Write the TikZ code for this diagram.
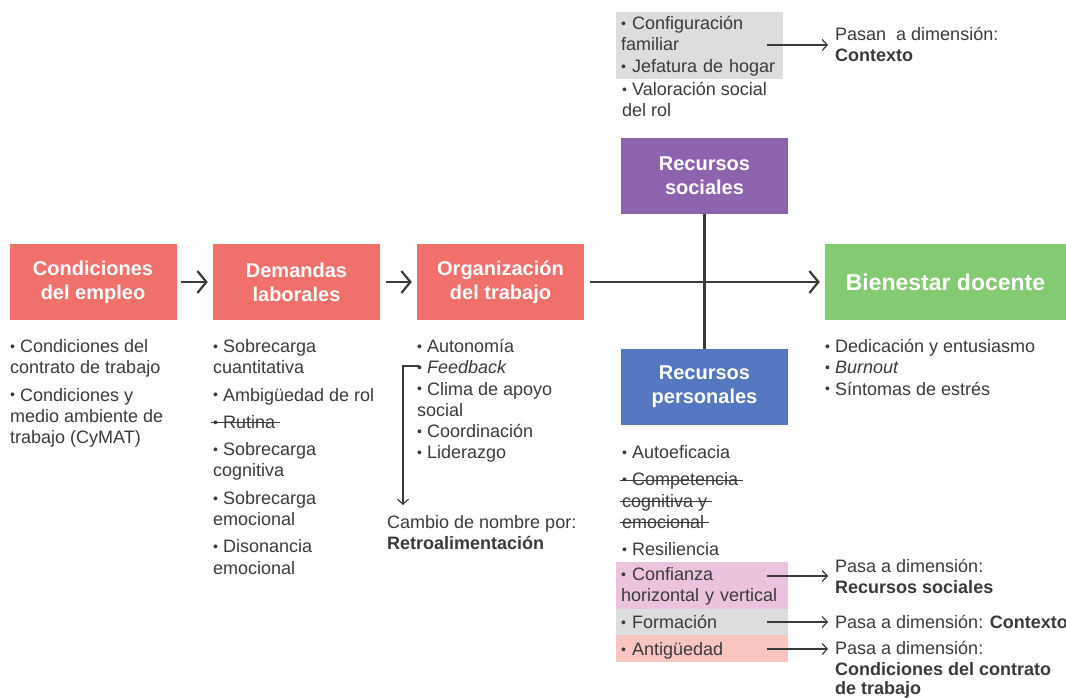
\documentclass[tikz,border=0pt]{standalone}
\usepackage{fontspec}
\setmainfont{Liberation Sans}
\usetikzlibrary{arrows.meta}
\definecolor{salmon}{HTML}{F0716C}
\definecolor{purp}{HTML}{8E63AE}
\definecolor{blu}{HTML}{5577C0}
\definecolor{grn}{HTML}{84CA72}
\definecolor{gry}{HTML}{DCDDDE}
\definecolor{pnk}{HTML}{EBC3DE}
\definecolor{lred}{HTML}{F8C5C1}
\definecolor{txt}{HTML}{3A3A3A}
\newsavebox{\strkbox}
\newcommand{\strk}[1]{\sbox{\strkbox}{#1}\hspace*{-2pt}\rlap{\raisebox{0.27em}{\rule{\dimexpr\wd\strkbox+7pt\relax}{1.1pt}}}\hspace*{2pt}\usebox{\strkbox}}
\newcommand{\bu}{\raisebox{0.06em}{\scalebox{0.78}{•}}\ }
\newcommand{\tstrut}{\rule{0pt}{17.4pt}}
\newcommand{\bstrut}{\rule[-3.9pt]{0pt}{3.9pt}}
\begin{document}
\begin{tikzpicture}[x=1pt,y=-1pt,
  box/.style={fill=#1, text=white, font=\fontsize{20}{24}\selectfont\bfseries,
    minimum width=167, minimum height=76, inner sep=0, align=center},
  lst/.style={anchor=north west, inner sep=0, align=left, text=txt,
    font=\fontsize{18}{21.3}\selectfont},
  hl/.style={fill=#1, anchor=north west, inner xsep=5, inner ysep=0, align=left,
    text=txt, font=\fontsize{18}{21.3}\selectfont},
  bigarr/.style={draw=txt, line width=2.2pt, -{Straight Barb[length=9pt,width=22pt]}},
  smallarr/.style={draw=txt, line width=1.2pt, -{Straight Barb[length=5pt,width=11pt]}},
]
\useasboundingbox (0,0) rectangle (1066,697);

% main boxes
\node[box=salmon] (cond) at (93,282) {Condiciones\\del empleo};
\node[box=salmon] (dem) at (296.5,282) {Demandas\\laborales};
\node[box=salmon] (org) at (500.5,282) {Organización\\del trabajo};
\node[box=grn, minimum width=241, font=\fontsize{23}{26}\selectfont\bfseries] (bien) at (945.5,282) {Bienestar docente};
\node[box=purp] (rsoc) at (704.5,176) {Recursos\\sociales};
\node[box=blu] (rper) at (704.5,387) {Recursos\\personales};

% connectors
\draw[bigarr, shorten <=4pt, shorten >=5pt] (cond) -- (dem);
\draw[bigarr, shorten <=6pt, shorten >=5pt] (dem) -- (org);
\draw[bigarr, shorten <=6pt, shorten >=5pt] (org) -- (bien);
\draw[draw=txt, line width=2.2pt] (rsoc) -- (rper);

% lists under boxes
\node[lst] (l1) at (10,337.3) {\strut\bu Condiciones del\\\strut contrato de trabajo\\[6pt]
  \strut\bu Condiciones y\\\strut medio ambiente de\\\strut trabajo (CyMAT)};
\node[lst] (l2) at (213,337.3) {\strut\bu Sobrecarga\\\strut cuantitativa\\[6pt]
  \strut\bu Ambigüedad de rol\\[6pt]
  \strut\strk{\bu Rutina}\\[6pt]
  \strut\bu Sobrecarga\\\strut cognitiva\\[6pt]
  \strut\bu Sobrecarga\\\strut emocional\\[6pt]
  \strut\bu Disonancia\\\strut emocional};
\node[lst] (l3) at (417,337.3) {\strut\bu Autonomía\\\strut\bu \textit{Feedback}\\
  \strut\bu Clima de apoyo\\\strut social\\\strut\bu Coordinación\\\strut\bu Liderazgo};
\node[lst] (l4) at (825,337.3) {\strut\bu Dedicación y entusiasmo\\\strut\bu \textit{Burnout}\\
  \strut\bu Síntomas de estrés};

% feedback note
\node[lst] (cambio) at (387,513.3) {\strut Cambio de nombre por:\\\strut\textbf{Retroalimentación}};
\coordinate (fb) at (419,366);
\coordinate (fbend) at (403,505);
\draw[smallarr] (fb) -| (fbend);

% top list (recursos sociales)
\node[hl=gry, text width=157, minimum height=66] (topg) at (616,12)
  {\tstrut\bu Configuración\\\strut familiar\\\strut\bu Jefatura de hogar\bstrut};
\node[lst] (valor) at (622,80.3) {\strut\bu Valoración social\\\strut del rol};
\node[lst] (topnote) at (835,25.3) {\strut Pasan\ \ a dimensión:\\\strut\textbf{Contexto}};
\coordinate (a0) at (767,45);
\draw[smallarr, shorten >=7pt] (a0) -- (a0 -| topnote.west);

% recursos personales list
\node[lst] (lper) at (622,443.3) {\strut\bu Autoeficacia\\[6pt]
  \strut\strk{\bu Competencia}\\\strut\strk{cognitiva y}\\\strut\strk{emocional}\\[6pt]
  \strut\bu Resiliencia};
\node[hl=pnk, text width=162, minimum height=47] (conf) at (616,562)
  {\tstrut\bu Confianza\\\strut horizontal y vertical\bstrut};
\node[hl=gry, text width=162, minimum height=26] (form) at (616,609)
  {\tstrut\bu Formación\bstrut};
\node[hl=lred, text width=162, minimum height=27] (anti) at (616,635)
  {\tstrut\bu Antigüedad\bstrut};

\node[lst] (n1) at (835,557.3) {\strut Pasa a dimensión:\\\strut\textbf{Recursos sociales}};
\node[lst] (n2) at (835,613.3) {\strut Pasa a dimensión: \textbf{Contexto}};
\node[lst] (n3) at (835,639.3) {\strut Pasa a dimensión:\\\strut\textbf{Condiciones del contrato}\\[-3pt]\strut\textbf{de trabajo}};

\coordinate (a1) at (767,576);
\coordinate (a2) at (767,622);
\coordinate (a3) at (767,649);
\draw[smallarr, shorten >=7pt] (a1) -- (a1 -| n1.west);
\draw[smallarr, shorten >=7pt] (a2) -- (a2 -| n2.west);
\draw[smallarr, shorten >=7pt] (a3) -- (a3 -| n3.west);
\end{tikzpicture}
\end{document}
